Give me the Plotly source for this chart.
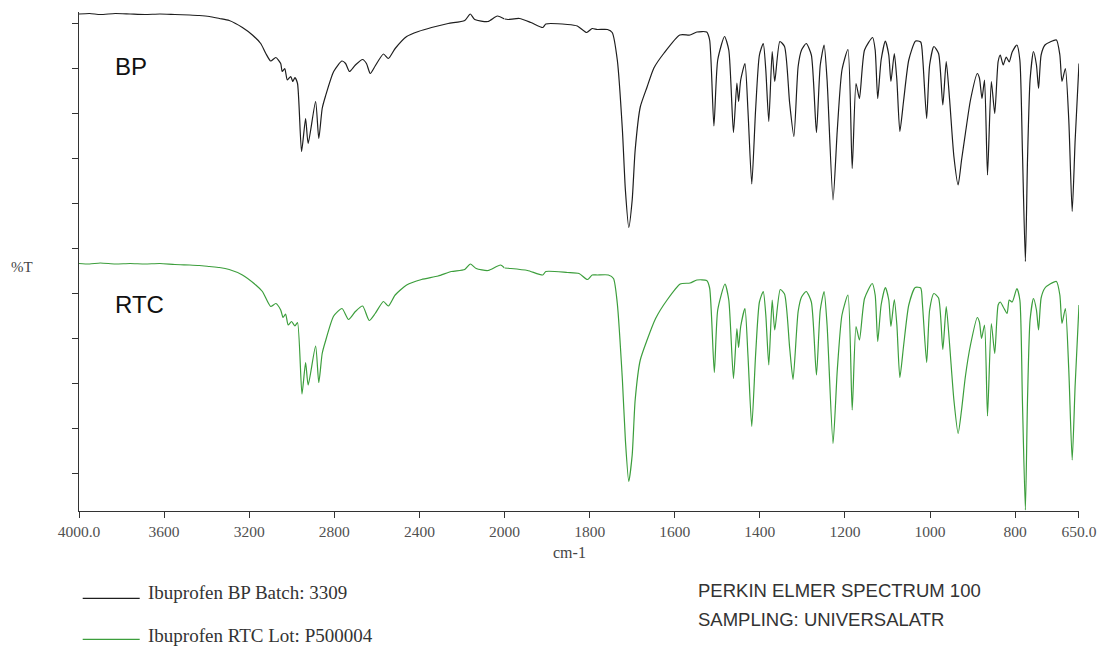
import numpy as np
import plotly.graph_objects as go

# ---- data (wavenumber cm-1, %T) ----
bp_wn = [4000, 3950, 3900, 3830, 3760, 3690, 3620, 3550, 3480, 3435, 3387, 3340, 3294, 3232, 3185,
         3146, 3122, 3099, 3075, 3052, 3045, 3033, 3021, 3005, 2995, 2985, 2973, 2954, 2935, 2923,
         2888, 2873, 2857, 2842, 2803, 2764, 2747, 2729, 2701, 2667, 2649, 2631, 2608, 2569, 2546,
         2514, 2460, 2405, 2343, 2265, 2187, 2161, 2140, 2078, 2034, 2000, 1992, 1965, 1938, 1910,
         1903, 1852, 1829, 1807, 1794, 1782, 1758, 1747, 1735, 1723, 1716, 1708, 1700, 1693, 1681,
         1665, 1649, 1625, 1588, 1564, 1548, 1525, 1518, 1508, 1499, 1483, 1473, 1462, 1454, 1450,
         1445, 1435, 1428, 1419, 1410, 1401, 1392, 1386, 1379, 1371, 1365, 1353, 1342, 1330, 1320,
         1310, 1302, 1291, 1279, 1267, 1258, 1249, 1242, 1228, 1218, 1207, 1193, 1183, 1174, 1166,
         1154, 1135, 1129, 1123, 1115, 1105, 1097, 1092, 1084, 1078, 1071, 1062, 1050, 1034, 1022,
         1017, 1008, 1001, 991, 980, 970, 962, 954, 944, 934, 926, 917, 905, 889, 884,
         878, 872, 865, 856, 848, 840, 835, 828, 821, 814, 807, 796, 789, 783, 776,
         771, 765, 757, 750, 745, 739, 730, 718, 703, 695, 690, 682, 674, 666, 659, 650]
bp_t = [99.4, 99.5, 99.3, 99.5, 99.4, 99.3, 99.4, 99.3, 99.2, 99.1, 98.9, 98.5, 98.1, 96.7, 95.2,
        93.5, 91.5, 90.0, 90.7, 89.5, 87.9, 88.5, 86.2, 86.9, 85.9, 86.7, 85.5, 71.9, 78.5, 73.5,
        81.9, 74.5, 80.5, 82.9, 87.9, 90.0, 89.5, 87.9, 89.2, 90.3, 89.5, 87.5, 89.0, 91.4, 90.5,
        92.5, 94.9, 95.9, 96.7, 97.5, 98.1, 99.4, 98.3, 97.9, 99.0, 98.4, 98.3, 98.5, 97.7, 96.7,
        97.4, 97.3, 97.0, 95.7, 96.5, 96.3, 96.3, 95.7, 90.2, 76.2, 64.2, 56.7, 62.2, 72.2, 80.8,
        84.8, 88.6, 91.6, 95.2, 95.2, 95.8, 95.8, 94.2, 77.0, 90.2, 94.9, 92.2, 75.7, 85.6, 81.9,
        86.2, 89.5, 80.2, 65.4, 80.2, 91.2, 93.5, 88.2, 77.9, 91.9, 85.9, 93.9, 92.9, 81.6, 74.9,
        88.9, 92.2, 93.5, 91.2, 75.7, 89.2, 93.2, 86.2, 62.2, 76.2, 88.2, 92.3, 68.5, 85.5, 82.5,
        92.2, 94.7, 92.2, 82.5, 90.2, 94.0, 91.2, 85.9, 91.5, 86.2, 75.9, 82.2, 90.2, 94.0, 93.8,
        90.2, 78.5, 89.2, 92.9, 91.5, 81.2, 89.9, 82.2, 70.9, 65.2, 70.2, 75.5, 82.2, 87.5, 86.6,
        82.5, 86.2, 67.2, 85.9, 79.5, 89.9, 91.2, 89.2, 90.8, 89.8, 91.8, 93.2, 90.2, 72.2, 49.9,
        70.2, 86.2, 91.9, 89.2, 84.5, 91.2, 93.2, 93.8, 94.2, 91.2, 85.9, 88.5, 78.2, 59.9, 74.2, 89.5]

rtc_wn = [4000, 3950, 3900, 3830, 3760, 3690, 3620, 3550, 3480, 3435, 3387, 3340, 3294, 3232, 3169,
          3138, 3099, 3075, 3052, 3041, 3029, 3017, 3001, 2985, 2973, 2952, 2935, 2923, 2888, 2873,
          2857, 2842, 2803, 2764, 2733, 2701, 2667, 2636, 2608, 2569, 2546, 2514, 2460, 2390, 2312,
          2250, 2187, 2161, 2133, 2078, 2019, 2000, 1985, 1946, 1910, 1903, 1852, 1825, 1805, 1794,
          1782, 1756, 1744, 1735, 1723, 1716, 1708, 1700, 1693, 1681, 1665, 1645, 1618, 1587, 1564,
          1548, 1525, 1518, 1507, 1499, 1482, 1473, 1462, 1454, 1450, 1445, 1435, 1428, 1419, 1410,
          1401, 1392, 1386, 1379, 1371, 1365, 1352, 1342, 1330, 1322, 1310, 1302, 1291, 1279, 1267,
          1258, 1249, 1242, 1228, 1218, 1207, 1193, 1183, 1174, 1166, 1154, 1136, 1129, 1123, 1115,
          1105, 1097, 1092, 1084, 1078, 1071, 1062, 1050, 1035, 1022, 1018, 1008, 1001, 991, 980,
          970, 962, 954, 944, 934, 926, 917, 905, 889, 884, 879, 872, 865, 856, 848,
          840, 835, 828, 819, 814, 807, 796, 789, 783, 776, 771, 765, 757, 750, 745,
          739, 730, 718, 703, 695, 690, 682, 674, 666, 659, 650]
rtc_t = [49.5, 49.4, 49.6, 49.4, 49.5, 49.4, 49.5, 49.3, 49.2, 49.1, 48.9, 48.7, 48.3, 47.2, 45.2,
         43.9, 40.9, 41.5, 40.2, 38.7, 39.4, 37.2, 37.9, 37.0, 37.7, 23.4, 29.7, 25.2, 33.0, 25.7,
         31.5, 33.9, 39.0, 40.5, 38.3, 39.9, 41.0, 38.1, 39.5, 41.9, 41.0, 43.2, 45.2, 46.3, 47.0,
         47.9, 48.3, 49.4, 48.5, 48.1, 49.2, 48.6, 48.5, 48.1, 47.2, 47.9, 47.7, 47.5, 46.3, 47.2,
         47.2, 47.2, 46.5, 41.5, 26.2, 14.2, 5.9, 11.2, 22.2, 30.2, 34.2, 38.5, 42.2, 45.4, 45.6,
         46.2, 46.1, 44.6, 27.7, 40.2, 45.4, 42.2, 26.5, 36.5, 32.7, 36.9, 40.5, 31.2, 16.9, 31.2,
         41.8, 43.9, 39.2, 29.2, 42.2, 36.2, 44.3, 43.4, 32.7, 26.3, 39.9, 42.8, 43.9, 41.8, 27.2,
         40.2, 43.9, 37.2, 13.5, 28.2, 39.2, 43.2, 20.2, 36.9, 34.2, 42.5, 45.5, 43.2, 33.9, 41.2,
         44.7, 42.2, 36.9, 42.3, 37.2, 26.7, 33.2, 41.2, 44.7, 44.6, 41.5, 29.7, 40.2, 43.5, 42.6,
         32.3, 40.9, 33.2, 22.2, 15.5, 20.2, 26.9, 33.2, 38.7, 37.8, 34.5, 37.2, 19.0, 37.5, 31.5,
         41.2, 41.8, 40.8, 39.5, 42.2, 41.8, 44.5, 42.2, 22.2, 0.2, 22.2, 38.2, 42.5, 40.2, 36.2,
         42.6, 44.6, 45.4, 45.9, 43.2, 37.5, 40.5, 28.2, 10.2, 25.2, 41.2]

x_hi_ticks = [4000, 3600, 3200, 2800, 2400]
x_hi_text = ["4000.0", "3600", "3200", "2800", "2400"]
x_lo_ticks = [2000, 1800, 1600, 1400, 1200, 1000, 800, 650]
x_lo_text = ["2000", "1800", "1600", "1400", "1200", "1000", "800", "650.0"]
y_ticks = [7.54, 16.54, 25.54, 34.54, 43.54, 52.54, 61.54, 70.54, 79.54, 88.54, 97.54]

series_names = ["Ibuprofen BP Batch: 3309", "Ibuprofen RTC Lot: P500004"]
series_labels = ["BP", "RTC"]
colors = ["#1e1e1e", "#3c9e3c"]

# ---- figure ----
fig = go.Figure()
for wn, t, col in [(bp_wn, bp_t, colors[0]), (rtc_wn, rtc_t, colors[1])]:
    wn = np.array(wn, dtype=float)
    t = np.array(t, dtype=float)
    hi = wn >= 2000
    lo = wn <= 2000
    for mask, xa in [(hi, "x"), (lo, "x2")]:
        fig.add_trace(go.Scatter(x=wn[mask], y=t[mask], mode="lines", xaxis=xa, yaxis="y",
                                 line=dict(color=col, width=1.2, shape="spline", smoothing=0.6),
                                 showlegend=False, hoverinfo="skip", cliponaxis=True))

D = 2000 * 1.0 / (2000 + 2 * 1350)  # scale doubles below 2000 cm-1

tickfont = dict(family="Liberation Serif", size=15.5, color="#505050")
axis_common = dict(showline=True, linecolor="#333333", linewidth=1, ticks="outside",
                   ticklen=6, tickcolor="#333333", showgrid=False, zeroline=False,
                   tickfont=tickfont, fixedrange=True)

fig.update_layout(
    width=1109, height=646,
    margin=dict(l=79, r=25, t=12, b=135),
    paper_bgcolor="white", plot_bgcolor="white",
    xaxis=dict(domain=[0, D], range=[4000.01, 2000], tickvals=x_hi_ticks, ticktext=x_hi_text,
               anchor="y", **axis_common),
    xaxis2=dict(domain=[D, 1], range=[2000, 649.99], tickvals=x_lo_ticks, ticktext=x_lo_text,
                anchor="y", **axis_common),
    yaxis=dict(domain=[0, 1], range=[0, 99.8], tickvals=y_ticks, showticklabels=False,
               anchor="x", **axis_common),
)

ann = []
ann.append(dict(text="%T", x=-0.0567, y=0.489, xref="paper", yref="paper", showarrow=False,
                xanchor="center", yanchor="middle",
                font=dict(family="Liberation Serif", size=15, color="#444444")))
ann.append(dict(text="cm-1", x=0.4906, y=-0.0822, xref="paper", yref="paper", showarrow=False,
                xanchor="center", yanchor="middle",
                font=dict(family="Liberation Serif", size=16, color="#444444")))
# series labels inside plot
ann.append(dict(text=series_labels[0], x=0.034, y=0.89, xref="paper", yref="paper", showarrow=False,
                xanchor="left", yanchor="middle",
                font=dict(family="Liberation Sans", size=24, color="#111111")))
ann.append(dict(text=series_labels[1], x=0.034, y=0.413, xref="paper", yref="paper", showarrow=False,
                xanchor="left", yanchor="middle",
                font=dict(family="Liberation Sans", size=24, color="#111111")))
# legend texts
leg_font = dict(family="Liberation Serif", size=19, color="#333333")
ann.append(dict(text=series_names[0], x=0.0668, y=-0.1637, xref="paper", yref="paper",
                showarrow=False, xanchor="left", yanchor="middle", font=leg_font))
ann.append(dict(text=series_names[1], x=0.0668, y=-0.2485, xref="paper", yref="paper",
                showarrow=False, xanchor="left", yanchor="middle", font=leg_font))
info_font = dict(family="Liberation Sans", size=18.5, color="#333333")
ann.append(dict(text="PERKIN ELMER SPECTRUM 100", x=0.6171, y=-0.1597, xref="paper", yref="paper",
                showarrow=False, xanchor="left", yanchor="middle", font=info_font))
ann.append(dict(text="SAMPLING: UNIVERSALATR", x=0.6171, y=-0.2170, xref="paper", yref="paper",
                showarrow=False, xanchor="left", yanchor="middle", font=info_font))
fig.update_layout(annotations=ann)

shapes = [
    dict(type="line", xref="paper", yref="paper", x0=0.0037, x1=0.0607, y0=-0.1750, y1=-0.1750,
         line=dict(color=colors[0], width=1.2)),
    dict(type="line", xref="paper", yref="paper", x0=0.0037, x1=0.0607, y0=-0.2571, y1=-0.2571,
         line=dict(color=colors[1], width=1.2)),
]
fig.update_layout(shapes=shapes)

fig.write_html("out.html")
